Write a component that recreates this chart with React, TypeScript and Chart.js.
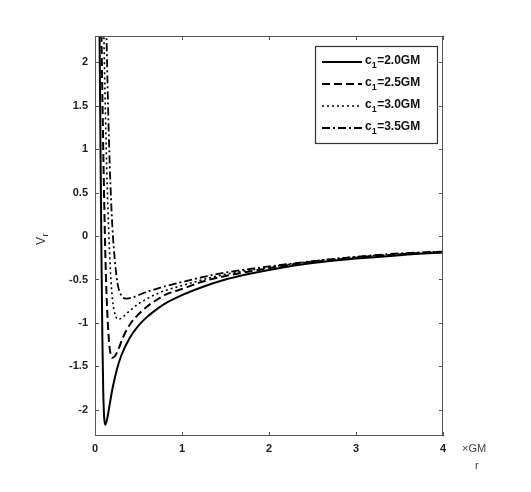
import React, { useEffect, useRef } from "react";
import { Chart, registerables } from "chart.js";

Chart.register(...registerables);

// r values (×GM) and V_r values
const rC20 = [0.045, 0.055, 0.065, 0.075, 0.085, 0.095, 0.105, 0.12, 0.14, 0.17, 0.2, 0.25, 0.3, 0.4, 0.5, 0.6, 0.7, 0.8, 1.0, 1.25, 1.5, 1.75, 2.0, 2.5, 3.0, 3.5, 4.0];
const vC20 = [3.2, 2.0, 0.8, -0.3, -1.2, -1.8, -2.08, -2.17, -2.1, -1.93, -1.76, -1.54, -1.38, -1.17, -1.03, -0.93, -0.85, -0.78, -0.68, -0.58, -0.5, -0.44, -0.39, -0.31, -0.26, -0.22, -0.19];

const rC25 = [0.07, 0.085, 0.1, 0.115, 0.13, 0.15, 0.17, 0.2, 0.23, 0.27, 0.32, 0.4, 0.5, 0.6, 0.7, 0.8, 1.0, 1.25, 1.5, 2.0, 2.5, 3.0, 3.5, 4.0];
const vC25 = [2.6, 1.6, 0.7, -0.05, -0.6, -1.05, -1.3, -1.4, -1.38, -1.3, -1.17, -1.02, -0.9, -0.81, -0.74, -0.68, -0.61, -0.52, -0.46, -0.37, -0.3, -0.25, -0.21, -0.18];

const rC30 = [0.1, 0.12, 0.14, 0.16, 0.18, 0.2, 0.23, 0.27, 0.32, 0.4, 0.5, 0.6, 0.7, 0.8, 1.0, 1.25, 1.5, 2.0, 2.5, 3.0, 3.5, 4.0];
const vC30 = [2.4, 1.4, 0.6, 0.0, -0.45, -0.72, -0.9, -0.96, -0.93, -0.86, -0.78, -0.72, -0.67, -0.63, -0.57, -0.5, -0.44, -0.36, -0.29, -0.24, -0.21, -0.18];

const rC35 = [0.13, 0.15, 0.17, 0.2, 0.23, 0.26, 0.3, 0.36, 0.42, 0.5, 0.6, 0.7, 0.8, 1.0, 1.25, 1.5, 2.0, 2.5, 3.0, 3.5, 4.0];
const vC35 = [2.4, 1.5, 0.8, 0.1, -0.3, -0.55, -0.68, -0.72, -0.71, -0.68, -0.64, -0.61, -0.58, -0.53, -0.47, -0.42, -0.35, -0.29, -0.24, -0.2, -0.18];

const legendLabels = ["2.0GM", "2.5GM", "3.0GM", "3.5GM"];
const xTicks = [0, 1, 2, 3, 4];
const yTicks = [-2, -1.5, -1, -0.5, 0, 0.5, 1, 1.5, 2];

const dashes: number[][] = [[], [8, 4], [2, 3], [8, 3, 2, 3]];
const widths = [2, 2, 1.6, 1.8];

const series = [
  { r: rC20, v: vC20 },
  { r: rC25, v: vC25 },
  { r: rC30, v: vC30 },
  { r: rC35, v: vC35 },
];

const FONT = "'Liberation Sans', Arial, sans-serif";

const overlay = {
  id: "overlay",
  afterDraw(chart: any) {
    const { ctx, chartArea } = chart;
    const { left, right, top, bottom } = chartArea;
    const xs = chart.scales.x;
    const ys = chart.scales.y;
    ctx.save();
    // frame
    ctx.strokeStyle = "#555";
    ctx.lineWidth = 1;
    ctx.strokeRect(left + 0.5, top + 0.5, right - left - 1, bottom - top - 1);
    // inward ticks
    ctx.beginPath();
    xTicks.forEach((t) => {
      const px = Math.round(xs.getPixelForValue(t)) + 0.5;
      ctx.moveTo(px, bottom);
      ctx.lineTo(px, bottom - 4);
      ctx.moveTo(px, top);
      ctx.lineTo(px, top + 4);
    });
    yTicks.forEach((t) => {
      const py = Math.round(ys.getPixelForValue(t)) + 0.5;
      ctx.moveTo(left, py);
      ctx.lineTo(left + 4, py);
      ctx.moveTo(right, py);
      ctx.lineTo(right - 4, py);
    });
    ctx.stroke();

    // y label V_r
    ctx.fillStyle = "#333";
    ctx.save();
    ctx.translate(42, 245);
    ctx.rotate(-Math.PI / 2);
    ctx.font = `12px ${FONT}`;
    ctx.textBaseline = "middle";
    ctx.textAlign = "left";
    ctx.fillText("V", 0, 0);
    const vw = ctx.measureText("V").width;
    ctx.font = `9px ${FONT}`;
    ctx.fillText("r", vw + 0.5, 4);
    ctx.restore();

    // x unit label
    ctx.font = `11px ${FONT}`;
    ctx.fillStyle = "#444";
    ctx.textBaseline = "middle";
    ctx.textAlign = "left";
    ctx.fillText("\u00d7GM", 462, 449);
    ctx.fillText("r", 475, 466);

    // legend
    const lx = 315, ly = 46, lw = 122, lh = 97;
    ctx.fillStyle = "#fff";
    ctx.fillRect(lx, ly, lw, lh);
    ctx.strokeStyle = "#333";
    ctx.lineWidth = 1.2;
    ctx.strokeRect(lx + 0.5, ly + 0.5, lw, lh);
    const rows = [62, 84, 106, 128];
    rows.forEach((ry, i) => {
      ctx.beginPath();
      ctx.setLineDash(dashes[i]);
      ctx.lineWidth = widths[i];
      ctx.strokeStyle = "#000";
      ctx.moveTo(322, ry);
      ctx.lineTo(362, ry);
      ctx.stroke();
      ctx.setLineDash([]);
      ctx.fillStyle = "#111";
      ctx.textBaseline = "middle";
      ctx.font = `bold 12px ${FONT}`;
      ctx.fillText("c", 365, ry - 1);
      const cw = ctx.measureText("c").width;
      ctx.font = `bold 9px ${FONT}`;
      ctx.fillText("1", 365 + cw, ry + 4);
      const sw = ctx.measureText("1").width;
      ctx.font = `bold 12px ${FONT}`;
      ctx.fillText("=" + legendLabels[i], 365 + cw + sw + 0.5, ry - 1);
    });
    ctx.restore();
  },
};

export default function App() {
  const ref = useRef<HTMLCanvasElement | null>(null);
  useEffect(() => {
    if (!ref.current) return;
    const chart = new Chart(ref.current, {
      type: "line",
      data: {
        datasets: series.map((s, i) => ({
          label: "c1=" + legendLabels[i],
          data: s.r.map((r, j) => ({ x: r, y: s.v[j] })),
          borderColor: "#000",
          borderWidth: widths[i],
          borderDash: dashes[i],
          pointRadius: 0,
          fill: false,
          cubicInterpolationMode: "monotone",
        })),
      },
      options: {
        responsive: false,
        animation: false,
        layout: { padding: { left: 0, top: 36, right: 88, bottom: 0 } },
        plugins: { legend: { display: false }, tooltip: { enabled: false } },
        scales: {
          x: {
            type: "linear",
            min: 0,
            max: 4,
            grid: { display: false, drawTicks: false },
            border: { display: false },
            afterBuildTicks: (s: any) => {
              s.ticks = xTicks.map((v) => ({ value: v }));
            },
            afterFit: (s: any) => {
              s.height = 56;
            },
            ticks: {
              padding: 6,
              color: "#222",
              font: { family: FONT, size: 11, weight: "bold" },
              callback: (v: any) => String(v),
              maxRotation: 0,
            },
          },
          y: {
            type: "linear",
            min: -2.3,
            max: 2.3,
            grid: { display: false, drawTicks: false },
            border: { display: false },
            afterBuildTicks: (s: any) => {
              s.ticks = yTicks.map((v) => ({ value: v }));
            },
            afterFit: (s: any) => {
              s.width = 95;
            },
            ticks: {
              padding: 7,
              color: "#222",
              font: { family: FONT, size: 11, weight: "bold" },
              callback: (v: any) => String(v),
            },
          },
        },
      },
      plugins: [overlay],
    } as any);
    return () => chart.destroy();
  }, []);
  return (
    <div style={{ position: "fixed", left: 0, top: 0, width: 531, height: 492, background: "#fff" }}>
      <canvas ref={ref} width={531} height={492} />
    </div>
  );
}
